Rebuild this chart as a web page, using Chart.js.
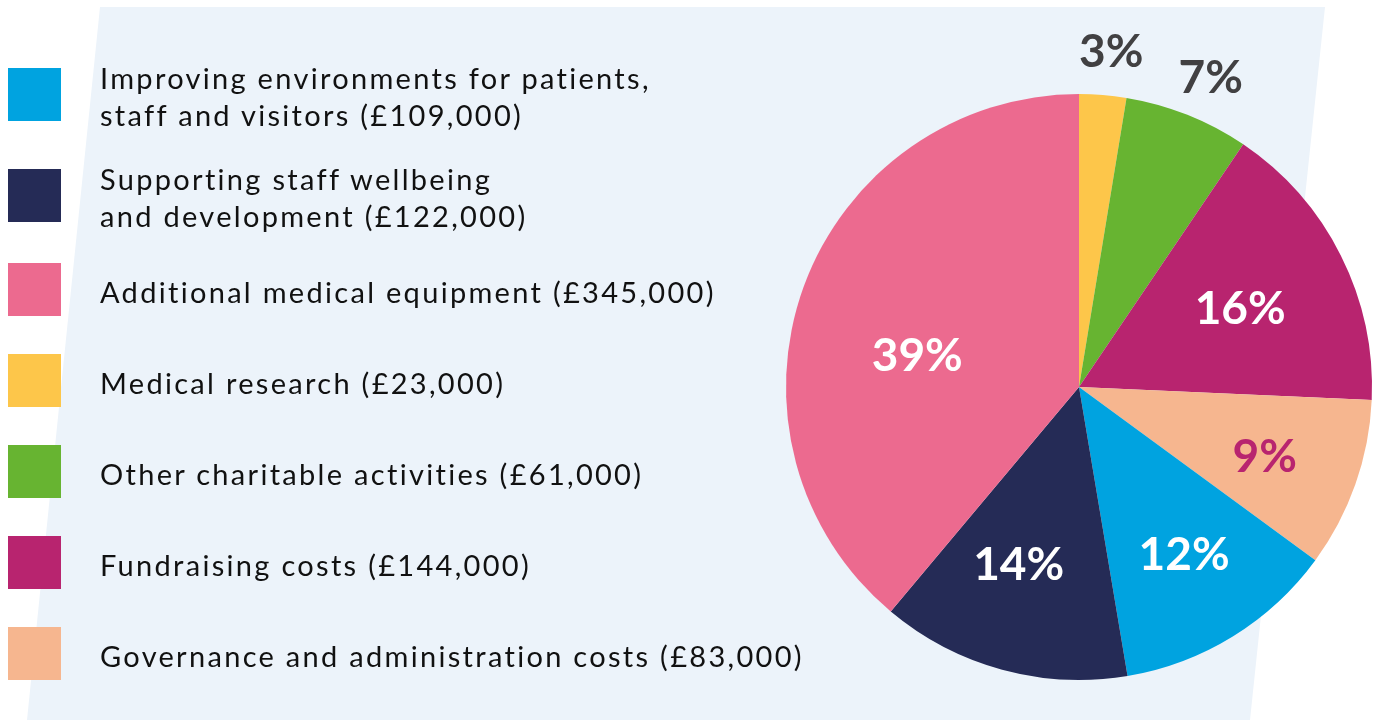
<!DOCTYPE html>
<html>
<head>
<meta charset="utf-8">
<script src="https://cdn.jsdelivr.net/npm/chart.js@4.4.1/dist/chart.umd.min.js"></script>
<style>
    html, body { margin: 0; padding: 0; background: #ffffff; }
    #stage { position: relative; width: 1378px; height: 720px; overflow: hidden; font-family: 'Lato', 'Noto Sans', sans-serif; }
    #panel {
        position: absolute; left: 0; top: 0; width: 1378px; height: 720px;
        background: #ecf3fa;
        clip-path: polygon(100px 7px, 1325px 7px, 1250px 720px, 27px 720px);
    }
    #pie { position: absolute; left: 0; top: 0; }
    .item { position: absolute; left: 8px; height: 53px; display: flex; align-items: center; }
    .swatch { width: 53px; height: 53px; flex: none; }
    .label {
        margin-left: 39px; padding-top: 3px;
        font-size: 29px; line-height: 37px; color: #111111;
        letter-spacing: 2.3px; white-space: nowrap;
    }
</style>
</head>
<body>
<div id="stage">
    <div id="panel"></div>
    <canvas id="pie" width="1378" height="720"></canvas>
    <div id="legend"></div>
</div>
<script>
// legend order (as listed on the left)
const legendNames = [
    "Improving environments for patients,<br>staff and visitors (£109,000)",
    "Supporting staff wellbeing<br>and development (£122,000)",
    "Additional medical equipment (£345,000)",
    "Medical research (£23,000)",
    "Other charitable activities (£61,000)",
    "Fundraising costs (£144,000)",
    "Governance and administration costs (£83,000)",
];
const legendColors = ["#00a3e0", "#252b56", "#ec6a8f", "#fdc64a", "#67b431", "#b8246f", "#f6b68f"];
const legendTops = [68, 169, 263, 354, 445, 536, 627];

// pie order, clockwise from 12 o'clock
const categories = [
    "Medical research",
    "Other charitable activities",
    "Fundraising costs",
    "Governance and administration costs",
    "Improving environments for patients, staff and visitors",
    "Supporting staff wellbeing and development",
    "Additional medical equipment",
];
const amounts = [23000, 61000, 144000, 83000, 109000, 122000, 345000];
const sliceColors = ["#fdc64a", "#67b431", "#b8246f", "#f6b68f", "#00a3e0", "#252b56", "#ec6a8f"];

// label styling per slice: radius factor, angle nudge (deg), colour
const labelRadius = [1.155, 1.15, 0.614, 0.676, 0.672, 0.635, 0.563];
const labelNudge = [0.8, 1.3, 0.3, 1, -0.6, 3.7, -8.7];
const labelColors = ["#414042", "#414042", "#ffffff", "#b8246f", "#ffffff", "#ffffff", "#ffffff"];

const legendBox = document.getElementById("legend");
legendNames.forEach((name, i) => {
    const row = document.createElement("div");
    row.className = "item";
    row.style.top = legendTops[i] + "px";
    row.innerHTML = '<div class="swatch" style="background:' + legendColors[i] + '"></div>' +
        '<div class="label">' + name + "</div>";
    legendBox.appendChild(row);
});

const pctLabels = {
    id: "pctLabels",
    afterDatasetsDraw(chart) {
        const ctx = chart.ctx;
        const meta = chart.getDatasetMeta(0);
        const vals = chart.data.datasets[0].data;
        const total = vals.reduce((a, b) => a + b, 0);
        ctx.save();
        ctx.font = "700 46px 'Lato', sans-serif";
        ctx.textAlign = "center";
        ctx.textBaseline = "alphabetic";
        meta.data.forEach((arc, i) => {
            const mid = (arc.startAngle + arc.endAngle) / 2 + (labelNudge[i] * Math.PI) / 180;
            const r = arc.outerRadius * labelRadius[i];
            const x = arc.x + Math.cos(mid) * r;
            const y = arc.y + Math.sin(mid) * r;
            ctx.fillStyle = labelColors[i];
            ctx.fillText(Math.round((100 * vals[i]) / total) + "%", x, y + 16.5);
        });
        ctx.restore();
    },
};

new Chart(document.getElementById("pie").getContext("2d"), {
    type: "pie",
    data: {
        labels: categories,
        datasets: [{ data: amounts, backgroundColor: sliceColors, borderWidth: 0 }],
    },
    options: {
        responsive: false,
        animation: false,
        layout: { padding: { left: 786, right: 6, top: 94, bottom: 40 } },
        plugins: { legend: { display: false }, tooltip: { enabled: false } },
    },
    plugins: [pctLabels],
});
</script>
</body>
</html>
